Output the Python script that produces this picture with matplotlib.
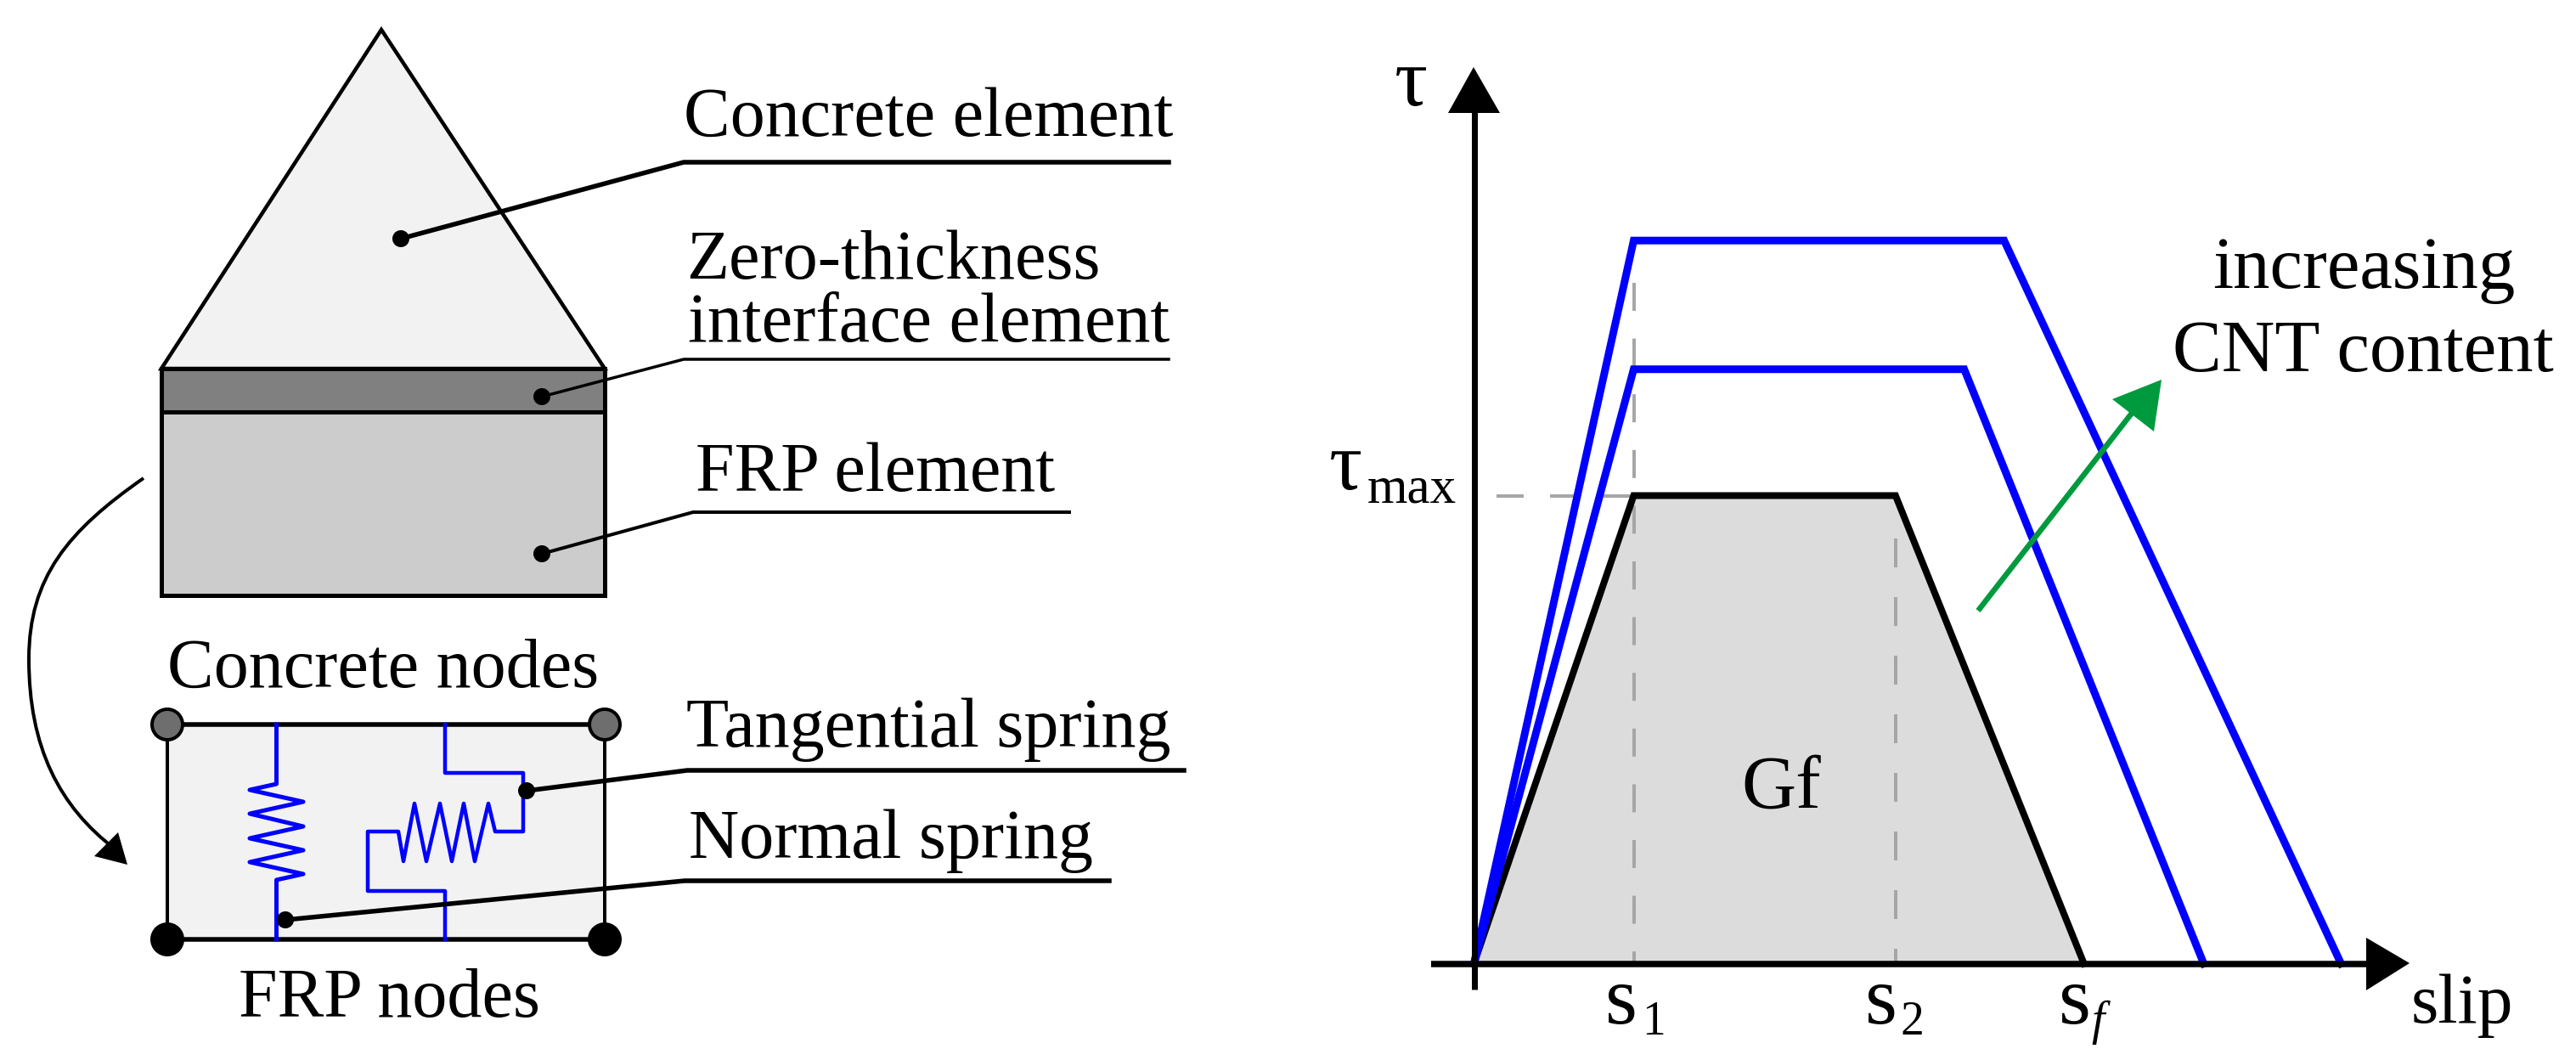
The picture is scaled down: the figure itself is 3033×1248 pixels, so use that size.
import matplotlib
matplotlib.use("Agg")
import matplotlib.pyplot as plt
from matplotlib.patches import Polygon, Rectangle, Ellipse, PathPatch
from matplotlib.path import Path

W, H = 3033, 1248
FONT = "Liberation Serif"

# --- bond-slip law (slip in units of s1, shear stress in units of tau_max)
slip_base = [0, 1.0, 2.64, 3.82]
tau_base = [0, 1.0, 1.0, 0]
slip_mid = [0, 1.0, 3.07, 4.57]
tau_mid = [0, 1.27, 1.27, 0]
slip_high = [0, 1.0, 3.32, 5.43]
tau_high = [0, 1.545, 1.545, 0]
slip_ticks = [("s", "1"), ("s", "2"), ("s", "f")]

# --- text
left_texts = ["Concrete element", "Zero-thickness", "interface element", "FRP element",
              "Tangential spring", "Normal spring", "Concrete nodes", "FRP nodes"]
right_texts = ["increasing", "CNT content", "slip", "Gf"]

# --- schematic outlines (left panel, in picture units)
triangle = [(190, 434), (449, 35), (712, 434)]
interface_band = (190, 434, 522, 51)
frp_block = (190, 485, 522, 216)
node_box = (197, 853, 515, 253)
left_spring = [(325.5, 853), (325.5, 923), (294, 930), (357, 944), (294, 958), (357, 973),
               (294, 987), (357, 1001), (294, 1015), (357, 1029), (325.5, 1036), (325.5, 1106)]
right_spring = [(524, 853), (524, 910), (616, 910), (616, 979), (583, 979), (575, 946),
                (559, 1014), (546, 946), (532, 1014), (518, 946), (502, 1014), (488, 946),
                (475, 1014), (469, 979), (433, 979), (433, 1049), (524, 1049), (524, 1106)]
leaders = [  # dot, elbow, end, width
    ((472, 281), (805, 191), (1376, 191), 5.5),
    ((638, 467), (805, 423), (1376, 423), 3.5),
    ((638, 652), (816, 603), (1259, 603), 4),
    ((620, 931), (809, 907), (1394, 907), 5.5),
    ((336, 1083), (806, 1037), (1306, 1037), 5.5),
]
left_pos = [(805, 160), (808, 328), (810, 402), (819, 578), (808, 879), (811, 1010), (197, 809), (281, 1197)]
right_pos = [(2605, 339), (2558, 437), (2839, 1204), (2050, 951)]
right_sizes = [62.5, 62.5, 60, 64]

fig = plt.figure(figsize=(W / 100, H / 100), dpi=100, facecolor="white")
ax = fig.add_axes([0, 0, 1, 1], zorder=3)
ax.set_xlim(0, W); ax.set_ylim(H, 0); ax.axis("off"); ax.patch.set_alpha(0)
px = 0.72

# left panel
ax.add_patch(Polygon(triangle, closed=True, fc="#f2f2f2", ec="black", lw=4.5 * px, joinstyle="miter"))
ax.add_patch(Rectangle(interface_band[:2], *interface_band[2:], fc="#808080", ec="black", lw=5 * px))
ax.add_patch(Rectangle(frp_block[:2], *frp_block[2:], fc="#cccccc", ec="black", lw=5 * px))

curve = Path([(169, 563), (80, 625), (34, 680), (34, 776), (34, 880), (70, 950), (136, 1000)],
             [Path.MOVETO, Path.CURVE4, Path.CURVE4, Path.CURVE4, Path.CURVE4, Path.CURVE4, Path.CURVE4])
ax.add_patch(PathPatch(curve, fc="none", ec="black", lw=4 * px))
ax.add_patch(Polygon([(150, 1018), (111, 1008), (139, 980)], closed=True, fc="black", ec="none"))

x0, y0, w, h = node_box
ax.add_patch(Rectangle((x0, y0), w, h, fc="#f2f2f2", ec="none"))
ax.plot([x0, x0], [y0, y0 + h], color="black", lw=4 * px)
ax.plot([x0 + w, x0 + w], [y0, y0 + h], color="black", lw=4 * px)
ax.plot([x0, x0 + w], [y0, y0], color="black", lw=5.5 * px)
ax.plot([x0, x0 + w], [y0 + h, y0 + h], color="black", lw=5.5 * px)
ax.plot(*zip(*left_spring), color="#0000ff", lw=5 * px, solid_joinstyle="round")
ax.plot(*zip(*right_spring), color="#0000ff", lw=4.5 * px, solid_joinstyle="round")
for cx, cy, col in [(x0, y0, "#6e6e6e"), (x0 + w, y0, "#6e6e6e"), (x0, y0 + h, "black"), (x0 + w, y0 + h, "black")]:
    ax.add_patch(Ellipse((cx, cy), 36, 36, fc=col, ec="black", lw=4 * px, zorder=4))

for dot, elbow, end, lw_ in leaders:
    ax.plot(*zip(dot, elbow, end), color="black", lw=lw_ * px, solid_joinstyle="miter", zorder=5)
    ax.add_patch(Ellipse(dot, 20, 20, fc="black", ec="none", zorder=5))

for s, (x, y) in zip(left_texts, left_pos):
    ax.text(x, y, s, family=FONT, fontsize=59, va="baseline", ha="left", zorder=6)
for s, (x, y), fs in zip(right_texts, right_pos, right_sizes):
    ax.text(x, y, s, family=FONT, fontsize=fs, va="baseline", ha="left", zorder=6)

# right panel: data axes
ox, oy = 1735.5, 1134.5
sx, sy = 188.0, 551.0
ax2 = fig.add_axes([ox / W, (H - oy) / H, (2837 - ox) / W, (oy - 79) / H], zorder=2)
ax2.set_xlim(0, (2837 - ox) / sx); ax2.set_ylim(0, (oy - 79) / sy); ax2.axis("off")

ax2.fill(slip_base, tau_base, color="#dcdcdc", zorder=1, lw=0)
dash = dict(color="#a6a6a6", lw=4 * px, zorder=2, clip_on=False, dash_capstyle="butt")
ax2.plot([slip_base[1]] * 2, [1.454, 0], dashes=(33 / 4, 32.6 / 4), **dash)
ax2.plot([slip_base[2]] * 2, [0.909, 0], dashes=(34 / 4, 35 / 4), **dash)
ax2.plot([(1762 - ox) / sx, slip_base[1]], [1, 1], dashes=(32 / 4, 31 / 4), **dash)
for xs, ys in [(slip_high, tau_high), (slip_mid, tau_mid)]:
    ax2.plot(xs, ys, color="#0000ff", lw=9 * px, solid_joinstyle="miter", zorder=4, clip_on=False)
ax2.plot(slip_base, tau_base, color="black", lw=8 * px, solid_joinstyle="miter", zorder=3, clip_on=False)

# axes arrows, green arrow and symbols
ax.plot([1735.5, 1735.5], [1165, 120], color="black", lw=7 * px, zorder=4, solid_capstyle="butt")
ax.add_patch(Polygon([(1735, 79), (1705, 133), (1766, 133)], closed=True, fc="black", ec="none", zorder=4))
ax.plot([1685, 2800], [1134.5, 1134.5], color="black", lw=7.5 * px, zorder=4, solid_capstyle="butt")
ax.add_patch(Polygon([(2837, 1134), (2786, 1104), (2786, 1166)], closed=True, fc="black", ec="none", zorder=4))
ax.plot([2329, 2515], [719, 480], color="#009a3e", lw=6.5 * px, zorder=4, solid_capstyle="butt")
ax.add_patch(Polygon([(2545, 447), (2487, 470), (2536, 508)], closed=True, fc="#009a3e", ec="none", zorder=4))

ax.text(1642, 124, "τ", family=FONT, fontsize=70, va="baseline", zorder=6)
ax.text(1565, 576, "τ", family=FONT, fontsize=70, va="baseline", zorder=6)
ax.text(1610, 591, "max", family=FONT, fontsize=44, va="baseline", zorder=6)
for (main, sub), xm, xs_ in zip(slip_ticks, [1890, 2196, 2424], [1933, 2237, 2462]):
    ax.text(xm, 1205, main, family=FONT, fontsize=70, va="baseline", zorder=6)
    ax.text(xs_, 1218, sub, family=FONT, fontsize=40, va="baseline", zorder=6,
            style="italic" if sub == "f" else "normal")

fig.savefig("out.png", dpi=100, facecolor="white")
